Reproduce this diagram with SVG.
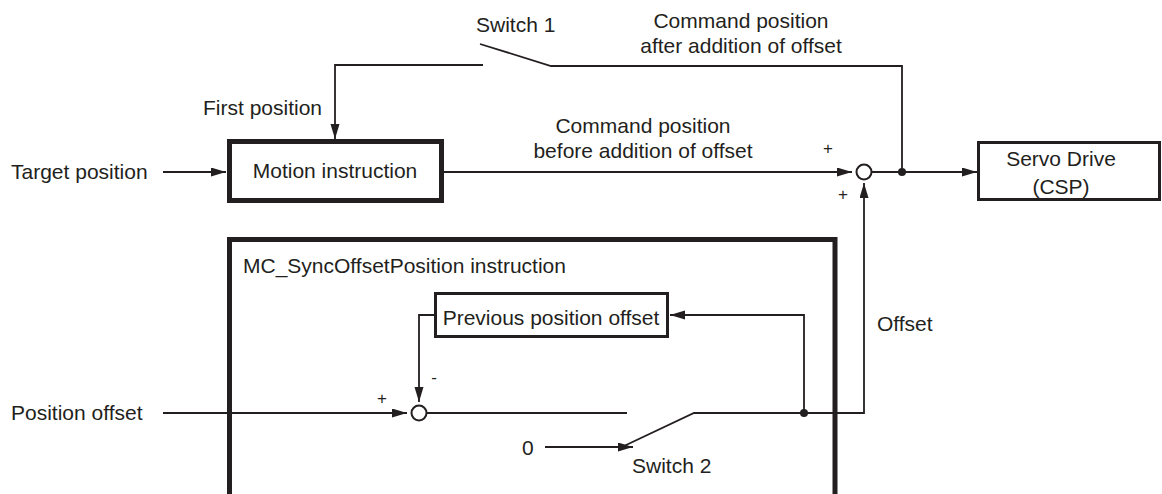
<svg xmlns="http://www.w3.org/2000/svg" width="1162" height="494" viewBox="0 0 1162 494">
<style>
text{font-family:"Liberation Sans",Arial,sans-serif;font-size:21px;fill:#231f20}
.m{text-anchor:middle}
.s{font-size:17px}
.ln{fill:none;stroke:#231f20;stroke-width:1.8}
.arr{fill:none;stroke:#231f20;stroke-width:1.8;marker-end:url(#ah)}
.box{fill:#fff;stroke:#231f20}
.dot{fill:#231f20}
.sum{fill:#fff;stroke:#231f20;stroke-width:2}
</style>
<defs>
<marker id="ah" markerUnits="userSpaceOnUse" markerWidth="16" markerHeight="10" refX="15" refY="4.5" orient="auto">
<path d="M0,0 L15,4.5 L0,9 z" fill="#231f20"/>
</marker>
</defs>
<rect width="1162" height="494" fill="#fff"/>

<g id="connectors">
<path class="arr" d="M163 172 H226"/>
<path class="arr" d="M483 65 H335 V139"/>
<path class="ln" d="M480 44 L551 66 H902 V172"/>
<path class="arr" d="M444 172 H852"/>
<path class="arr" d="M872 172 H977"/>
<path class="arr" d="M804 413 H864 V183"/>
<path class="arr" d="M163 413 H407"/>
<path class="ln" d="M427 413 H627"/>
<path class="ln" d="M624 446 L694 413 H804"/>
<path class="arr" d="M545 447 H633"/>
<path class="arr" d="M804 413 V315 H670"/>
<path class="arr" d="M434 315 H419 V402"/>
<circle class="dot" cx="902" cy="172" r="4"/>
<circle class="dot" cx="804" cy="413" r="4"/>
</g>

<g id="labels">
<text x="11" y="179">Target position</text>
<text x="203" y="115">First position</text>
<text x="476" y="32">Switch 1</text>
<text class="m" x="741" y="28">Command position</text>
<text class="m" x="741" y="53">after addition of offset</text>
<text class="m" x="643" y="133">Command position</text>
<text class="m" x="643" y="158">before addition of offset</text>
<text class="m s" x="828" y="154">+</text>
<text class="m s" x="843" y="200">+</text>
<text x="877" y="331">Offset</text>
<text x="11" y="420">Position offset</text>
<text class="m s" x="382" y="404">+</text>
<text class="m s" x="434" y="383">-</text>
<text x="522" y="455">0</text>
<text x="632" y="473">Switch 2</text>
</g>

<g id="motion-instruction">
<rect class="box" x="229.5" y="141.5" width="212" height="59" stroke-width="5"/>
<text class="m" x="335" y="178">Motion instruction</text>
</g>

<g id="sum-command">
<circle class="sum" cx="864" cy="172" r="7.5"/>
</g>

<g id="servo-drive">
<rect class="box" x="978.5" y="142.5" width="181" height="57" stroke-width="3"/>
<text class="m" x="1061" y="166">Servo Drive</text>
<text class="m" x="1061" y="194">(CSP)</text>
</g>

<g id="mc-syncoffsetposition">
<path d="M229.5 494 V239.5 H835 V494" fill="none" stroke="#231f20" stroke-width="5"/>
<text x="243" y="273">MC_SyncOffsetPosition instruction</text>
</g>

<g id="previous-position-offset">
<rect class="box" x="435.5" y="293.5" width="232" height="43" stroke-width="3"/>
<text class="m" x="551" y="325">Previous position offset</text>
</g>

<g id="sum-offset">
<circle class="sum" cx="419" cy="413" r="7.5"/>
</g>
</svg>
